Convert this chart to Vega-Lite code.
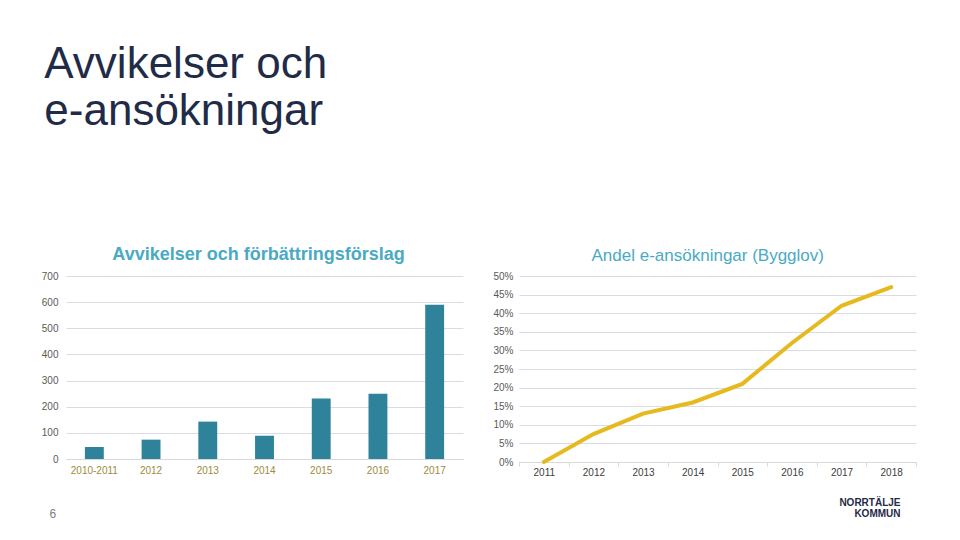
{
  "$schema": "https://vega.github.io/schema/vega-lite/v6.json",
  "background": "white",
  "padding": {"left": 41, "top": 43, "right": 10, "bottom": 5},
  "title": {
    "text": ["Avvikelser och", "e-ansökningar"],
    "anchor": "start",
    "font": "Liberation Sans",
    "fontSize": 44,
    "fontWeight": "normal",
    "color": "#1f2b47",
    "lineHeight": 47,
    "offset": 112,
    "dx": 3
  },
  "config": {
    "view": {"stroke": null},
    "axis": {
      "labelFont": "Liberation Sans",
      "labelFontSize": 10,
      "labelColor": "#595959",
      "gridColor": "#d9dde3",
      "domainColor": "#d9d9d9",
      "tickColor": "#d9d9d9"
    }
  },
  "spacing": 29,
  "hconcat": [
    {
      "width": 397,
      "height": 183,
      "title": {
        "text": "Avvikelser och förbättringsförslag",
        "font": "Liberation Sans",
        "fontSize": 18,
        "fontWeight": "bold",
        "color": "#4aaac4",
        "anchor": "middle",
        "frame": "group",
        "offset": 7,
        "dx": -6
      },
      "data": {
        "values": [
          {"period": "2010-2011", "value": 46},
          {"period": "2012", "value": 74},
          {"period": "2013", "value": 143},
          {"period": "2014", "value": 89},
          {"period": "2015", "value": 231},
          {"period": "2016", "value": 250},
          {"period": "2017", "value": 590}
        ]
      },
      "mark": {"type": "bar", "color": "#2e8299"},
      "encoding": {
        "x": {
          "field": "period",
          "type": "ordinal",
          "sort": null,
          "scale": {"paddingInner": 0.667, "paddingOuter": 0.333},
          "axis": {
            "title": "6",
            "titleAnchor": "start",
            "titleAlign": "left",
            "titleX": -17,
            "titleFont": "Liberation Sans",
            "titleFontSize": 12,
            "titleFontWeight": "normal",
            "titleColor": "#7f7f7f",
            "titlePadding": 33,
            "labelAngle": 0,
            "labelColor": "#9c8b3a",
            "ticks": false,
            "domain": true,
            "labelPadding": 6
          }
        },
        "y": {
          "field": "value",
          "type": "quantitative",
          "scale": {"domain": [0, 700]},
          "axis": {
            "title": null,
            "values": [0, 100, 200, 300, 400, 500, 600, 700],
            "domain": false,
            "ticks": false,
            "labelPadding": 8
          }
        }
      }
    },
    {
      "width": 397,
      "height": 186,
      "title": {
        "text": "Andel e-ansökningar (Bygglov)",
        "font": "Liberation Sans",
        "fontSize": 17,
        "fontWeight": "normal",
        "color": "#4aaac4",
        "anchor": "middle",
        "frame": "bounds",
        "offset": 6,
        "dx": 3
      },
      "data": {
        "values": [
          {"year": "2011", "share": 0.0},
          {"year": "2012", "share": 0.075},
          {"year": "2013", "share": 0.13},
          {"year": "2014", "share": 0.16},
          {"year": "2015", "share": 0.21},
          {"year": "2016", "share": 0.32},
          {"year": "2017", "share": 0.42},
          {"year": "2018", "share": 0.47}
        ]
      },
      "mark": {"type": "line", "color": "#e6b91e", "strokeWidth": 4, "strokeCap": "round"},
      "encoding": {
        "x": {
          "field": "year",
          "type": "ordinal",
          "sort": null,
          "scale": {"type": "band", "paddingInner": 0, "paddingOuter": 0},
          "axis": {
            "title": ["NORRTÄLJE", "KOMMUN"],
            "titleAnchor": "end",
            "titleAlign": "right",
            "titleX": 381,
            "titleFont": "Liberation Sans",
            "titleFontSize": 10,
            "titleFontWeight": "bold",
            "titleColor": "#1f2b47",
            "titleLineHeight": 11,
            "titlePadding": 20,
            "labelAngle": 0,
            "labelColor": "#404040",
            "tickBand": "extent",
            "ticks": true,
            "tickSize": 4,
            "grid": false,
            "domain": true,
            "labelPadding": 1
          }
        },
        "y": {
          "field": "share",
          "type": "quantitative",
          "scale": {"domain": [0, 0.5]},
          "axis": {
            "title": null,
            "format": ".0%",
            "values": [0, 0.05, 0.1, 0.15, 0.2, 0.25, 0.3, 0.35, 0.4, 0.45, 0.5],
            "domain": false,
            "ticks": false,
            "labelPadding": 6
          }
        }
      }
    }
  ]
}
